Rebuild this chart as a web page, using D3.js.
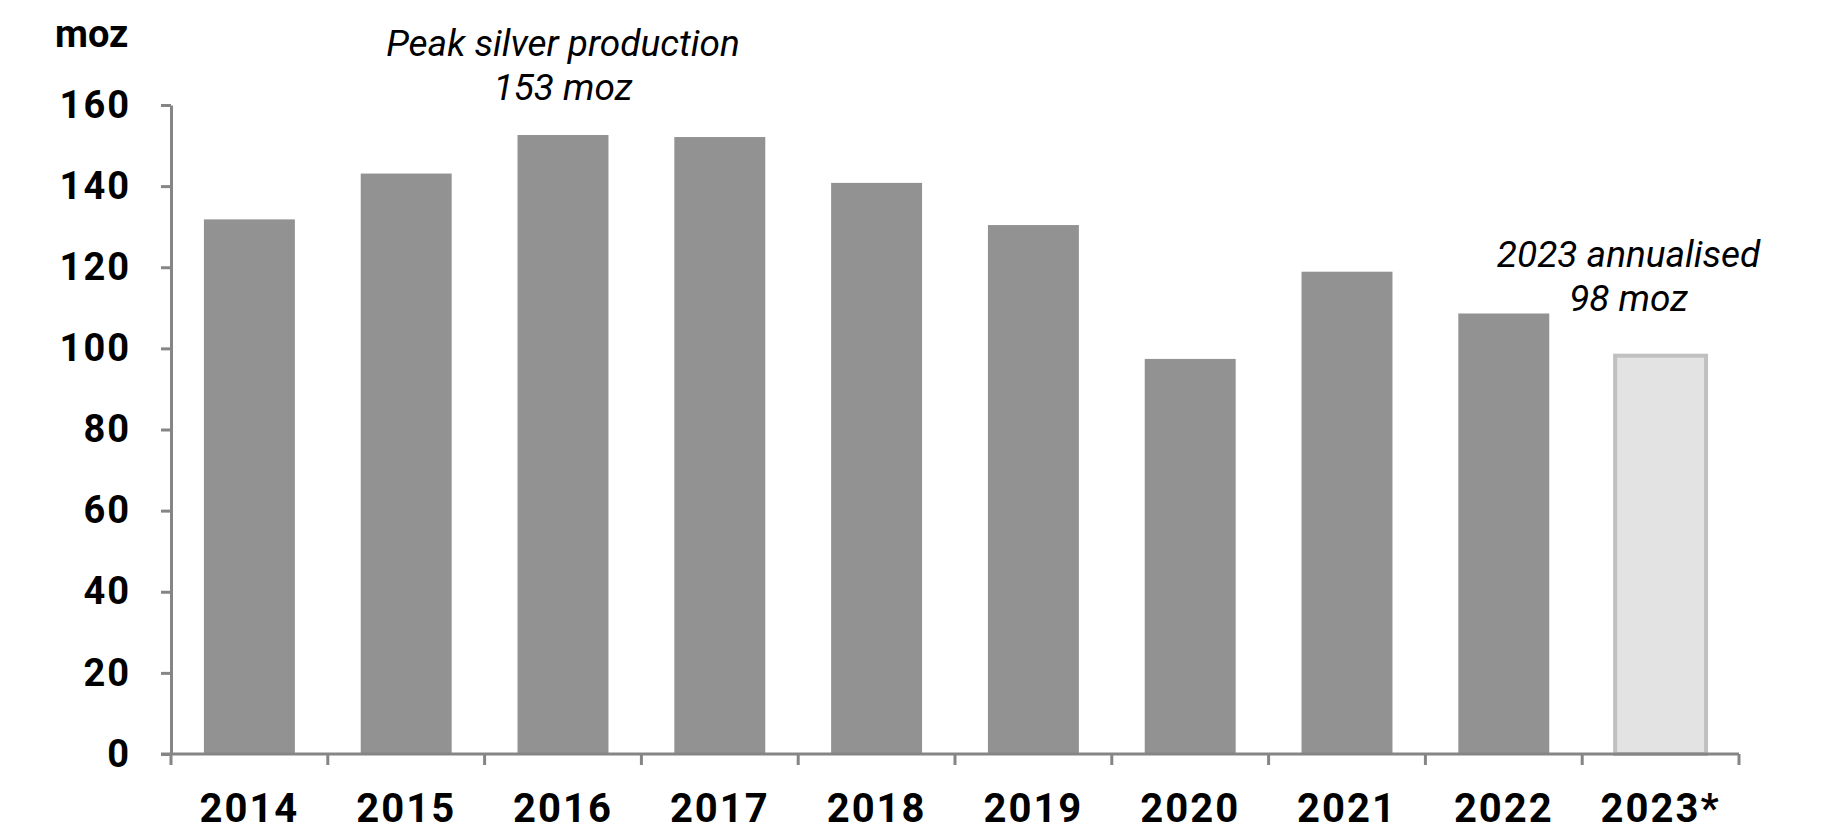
<!DOCTYPE html>
<html>
<head>
<meta charset="utf-8">
<script src="https://cdn.jsdelivr.net/npm/d3@7"></script>
<style>
  body { margin: 0; background: #fff; }
  text { font-family: Roboto, "Open Sans", sans-serif; }
</style>
</head>
<body>
<script>
var width = 1828, height = 836;

// data
var years = ["2014", "2015", "2016", "2017", "2018", "2019", "2020", "2021", "2022", "2023*"];
var production = [131.8, 143.1, 152.6, 152.1, 140.8, 130.4, 97.4, 118.9, 108.6, 98.2];
var yTicks = [0, 20, 40, 60, 80, 100, 120, 140, 160];
var peakNote = ["Peak silver production", "153 moz"];
var annualNote = ["2023 annualised", "98 moz"];

var margin = { left: 171, right: 89, top: 105, bottom: 82 };

var svg = d3.select("body").append("svg").attr("width", width).attr("height", height);

var x = d3.scaleBand()
  .domain(years)
  .range([margin.left, width - margin.right])
  .paddingInner(0.42)
  .paddingOuter(0.21);

var y = d3.scaleLinear()
  .domain([0, 160])
  .range([height - margin.bottom, margin.top]);

// bars
svg.selectAll("rect.bar")
  .data(production)
  .enter()
  .append("rect")
  .attr("class", "bar")
  .attr("x", (d, i) => x(years[i]))
  .attr("y", d => y(d))
  .attr("width", x.bandwidth())
  .attr("height", d => y(0) - y(d))
  .attr("fill", (d, i) => i == years.length - 1 ? "#e3e3e3" : "#929292")
  .attr("stroke", (d, i) => i == years.length - 1 ? "#c0c0c0" : "none")
  .attr("stroke-width", 4);

// y axis
var yAxis = svg.append("g")
  .attr("transform", "translate(" + margin.left + ",0)")
  .call(d3.axisLeft(y).tickValues(yTicks).tickSize(10).tickPadding(30).tickSizeOuter(0));

// x axis, ticks between categories
var xEdges = years.map(d => x(d) - x.step() * x.paddingInner() / 2);
xEdges.push(width - margin.right);
var xAxis = svg.append("g")
  .attr("transform", "translate(0," + y(0) + ")");
xAxis.append("line")
  .attr("x1", margin.left - 10).attr("x2", width - margin.right)
  .attr("y1", 0).attr("y2", 0);
xAxis.selectAll("line.tick")
  .data(xEdges)
  .enter()
  .append("line")
  .attr("class", "tick")
  .attr("x1", d => d).attr("x2", d => d)
  .attr("y1", 0).attr("y2", 11);
xAxis.selectAll("text")
  .data(years)
  .enter()
  .append("text")
  .attr("x", d => x(d) + x.bandwidth() / 2)
  .attr("y", 68)
  .attr("text-anchor", "middle")
  .text(d => d);

svg.selectAll("line, path.domain").attr("stroke", "#858585").attr("stroke-width", 3);
svg.selectAll("rect.bar").raise();
yAxis.select("path.domain").raise();
xAxis.raise();

svg.selectAll("g text")
  .attr("fill", "#000")
  .attr("font-size", 38)
  .attr("font-weight", "bold")
  .attr("letter-spacing", 2);
xAxis.selectAll("text").attr("font-size", 40);

// unit label
svg.append("text")
  .attr("x", 55).attr("y", 47)
  .attr("font-size", 38).attr("font-weight", "bold")
  .text("moz");

// annotations
function note(lines, cx, y0) {
  svg.selectAll(null)
    .data(lines)
    .enter()
    .append("text")
    .attr("x", cx)
    .attr("y", (d, i) => y0 + i * 44)
    .attr("text-anchor", "middle")
    .attr("font-style", "italic")
    .attr("font-size", 37)
    .attr("fill", "#000")
    .text(d => d);
}
note(peakNote, x("2016") + x.bandwidth() / 2, 56);
note(annualNote, x("2023*") + x.bandwidth() / 2 - 32, 267);
</script>
</body>
</html>
